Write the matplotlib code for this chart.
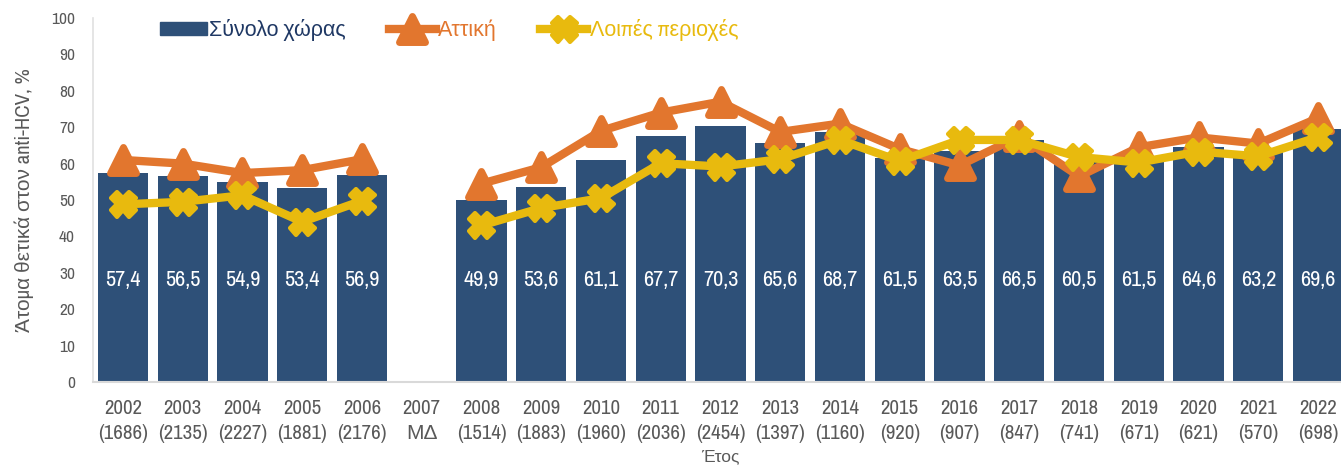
import numpy as np
import matplotlib
matplotlib.use("Agg")
import matplotlib.pyplot as plt
from matplotlib.lines import Line2D
from matplotlib.patches import Patch
from matplotlib.markers import MarkerStyle
from matplotlib import font_manager as fm

# look for a condensed sans family if one happens to be installed
narrow = None
for f in fm.fontManager.ttflist:
    n = f.name
    if ('Narrow' in n or 'Condensed' in n) and 'Mono' not in n and 'Serif' not in n:
        narrow = n
        break
if narrow:
    plt.rcParams['font.family'] = [narrow, 'Liberation Sans', 'DejaVu Sans']
else:
    plt.rcParams['font.family'] = ['Liberation Sans', 'DejaVu Sans']

years = ['2002', '2003', '2004', '2005', '2006', '2007', '2008', '2009', '2010', '2011', '2012',
         '2013', '2014', '2015', '2016', '2017', '2018', '2019', '2020', '2021', '2022']
ns = ['(1686)', '(2135)', '(2227)', '(1881)', '(2176)', 'ΜΔ', '(1514)', '(1883)', '(1960)', '(2036)',
      '(2454)', '(1397)', '(1160)', '(920)', '(907)', '(847)', '(741)', '(671)', '(621)', '(570)', '(698)']
total = [57.4, 56.5, 54.9, 53.4, 56.9, np.nan, 49.9, 53.6, 61.1, 67.7, 70.3,
         65.6, 68.7, 61.5, 63.5, 66.5, 60.5, 61.5, 64.6, 63.2, 69.6]
attiki = [61.0, 60.0, 57.4, 58.2, 61.2, np.nan, 54.5, 59.0, 69.0, 74.0, 77.0,
          68.7, 71.0, 64.0, 59.5, 67.5, 56.5, 64.5, 67.2, 65.5, 72.5]
loipes = [48.8, 49.5, 51.3, 44.0, 49.8, np.nan, 43.0, 47.8, 50.5, 60.1, 59.2,
          61.2, 66.5, 60.7, 66.5, 66.5, 61.8, 60.3, 63.3, 62.0, 67.3]

bar_c = '#2E5078'
org_c = '#E2762E'
yel_c = '#E8BA0E'
txt_c = '#595959'

tri = MarkerStyle('^', joinstyle='round')
xmk = MarkerStyle('X', joinstyle='round')

fig = plt.figure(figsize=(13.41, 4.76), dpi=100)
ax = fig.add_axes([93/1341, (476-382)/476, (1348-93)/1341, (382-18)/476])

x = np.arange(len(years))
tv = np.array(total)
ax.bar(x, np.nan_to_num(tv), width=0.84, color=bar_c, zorder=2)
for xi, v in zip(x, tv):
    if not np.isnan(v):
        ax.text(xi, 28.0, f"{v:.1f}".replace('.', ','), ha='center', va='center',
                color='white', fontsize=(16 if narrow else 14.5), zorder=5)

ax.plot(x, attiki, color=org_c, lw=6, marker=tri, markersize=19, mew=5, mec=org_c,
        zorder=3, solid_capstyle='round', solid_joinstyle='round')
ax.plot(x, loipes, color=yel_c, lw=6, marker=xmk, markersize=18, mew=3, mec=yel_c,
        zorder=4, solid_capstyle='round', solid_joinstyle='round')

ax.set_xlim(-0.5, 20.5)
ax.set_ylim(0, 100)
ax.set_yticks(range(0, 101, 10))
ax.set_xticks(x)
ax.set_xticklabels([f"{y}\n{n}" for y, n in zip(years, ns)],
                   fontsize=(15 if narrow else 12), color=txt_c, linespacing=1.4)
ax.tick_params(axis='y', labelsize=(12.5 if narrow else 11.5), colors=txt_c, length=0, pad=13)
ax.tick_params(axis='x', length=0, pad=12)
for s in ['top', 'right']:
    ax.spines[s].set_visible(False)
ax.spines['left'].set_color('#E0E0E0')
ax.spines['bottom'].set_color('#D9D9D9')
ax.spines['left'].set_linewidth(1.2)
ax.spines['bottom'].set_linewidth(1.5)

ax.set_ylabel('Άτομα θετικά στον anti-HCV, %', fontsize=(15 if narrow else 12.5), color=txt_c,
              labelpad=12)
ax.set_xlabel('Έτος', fontsize=12.5, color=txt_c, labelpad=5)

handles = [Patch(color=bar_c),
           Line2D([], [], color=org_c, lw=6, marker=tri, markersize=19, mew=5),
           Line2D([], [], color=yel_c, lw=6, marker=xmk, markersize=18, mew=3)]
labels = ['Σύνολο χώρας', 'Αττική', 'Λοιπές περιοχές']
leg = ax.legend(handles, labels, loc='upper left', bbox_to_anchor=(0.053, 0.998), ncol=3,
                frameon=False, fontsize=(15.5 if narrow else 13.5), handlelength=2.2,
                handleheight=0.55, handletextpad=0.1, columnspacing=2.0,
                borderpad=0, borderaxespad=0)
for t in leg.get_texts():
    t.set_color('#1F3864')
leg.get_texts()[1].set_color(org_c)
leg.get_texts()[2].set_color(yel_c)

fig.savefig('out.png', dpi=100)
